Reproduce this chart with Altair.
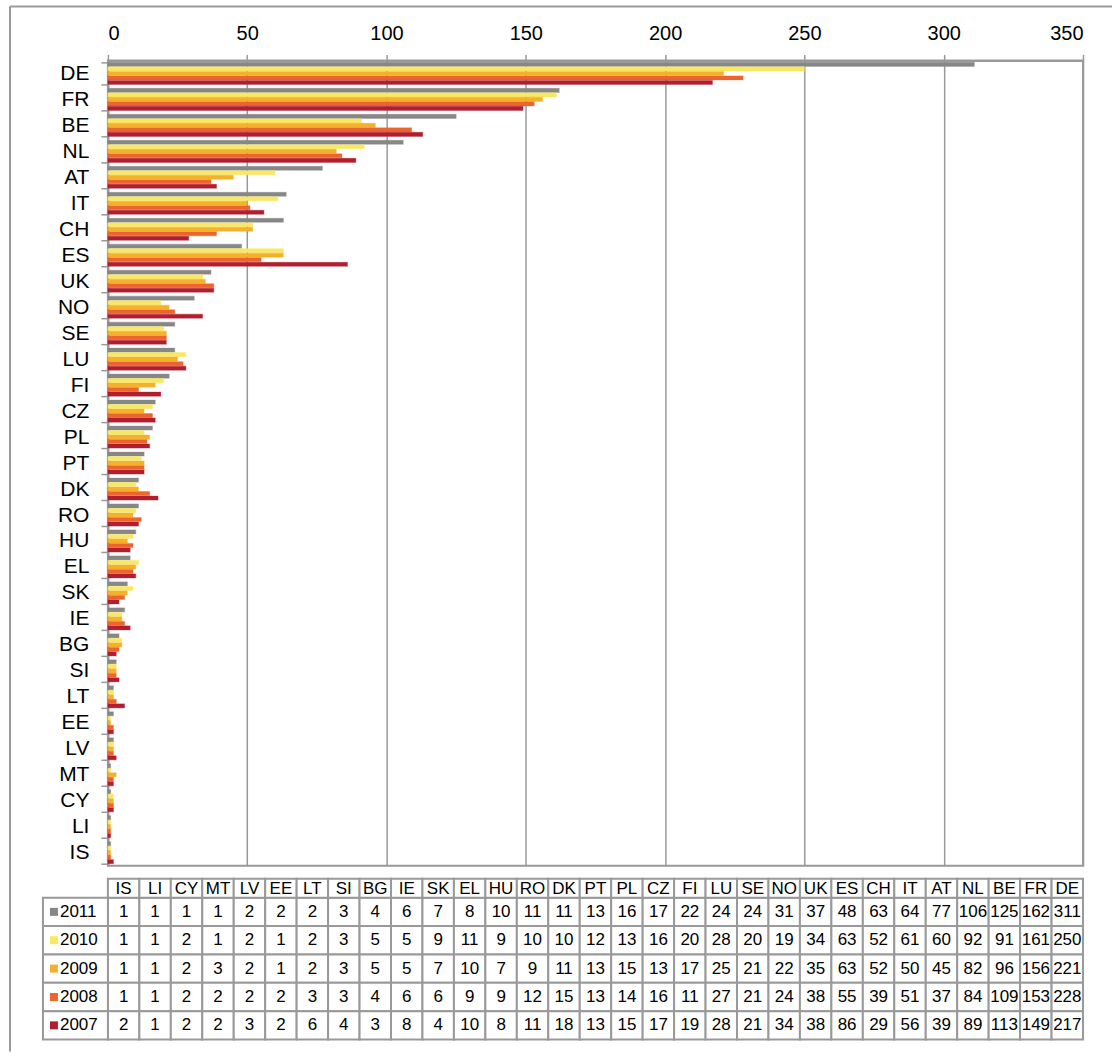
import altair as alt
import pandas as pd

# Countries in table order (smallest to largest); the bar chart lists them in reverse
countries = ["IS", "LI", "CY", "MT", "LV", "EE", "LT", "SI", "BG", "IE", "SK", "EL",
             "HU", "RO", "DK", "PT", "PL", "CZ", "FI", "LU", "SE", "NO", "UK", "ES",
             "CH", "IT", "AT", "NL", "BE", "FR", "DE"]
years = ["2011", "2010", "2009", "2008", "2007"]

v2011 = [1, 1, 1, 1, 2, 2, 2, 3, 4, 6, 7, 8, 10, 11, 11, 13, 16, 17, 22, 24, 24, 31,
         37, 48, 63, 64, 77, 106, 125, 162, 311]
v2010 = [1, 1, 2, 1, 2, 1, 2, 3, 5, 5, 9, 11, 9, 10, 10, 12, 13, 16, 20, 28, 20, 19,
         34, 63, 52, 61, 60, 92, 91, 161, 250]
v2009 = [1, 1, 2, 3, 2, 1, 2, 3, 5, 5, 7, 10, 7, 9, 11, 13, 15, 13, 17, 25, 21, 22,
         35, 63, 52, 50, 45, 82, 96, 156, 221]
v2008 = [1, 1, 2, 2, 2, 2, 3, 3, 4, 6, 6, 9, 9, 12, 15, 13, 14, 16, 11, 27, 21, 24,
         38, 55, 39, 51, 37, 84, 109, 153, 228]
v2007 = [2, 1, 2, 2, 3, 2, 6, 4, 3, 8, 4, 10, 8, 11, 18, 13, 15, 17, 19, 28, 21, 34,
         38, 86, 29, 56, 39, 89, 113, 149, 217]

colors = ["#878787", "#f8e862", "#f4b12e", "#ec652e", "#b11e2e"]

series = dict(zip(years, [v2011, v2010, v2009, v2008, v2007]))
df = pd.DataFrame(
    [{"country": c, "year": y, "value": vals[i]}
     for y, vals in series.items() for i, c in enumerate(countries)]
)
hdr = pd.DataFrame({"country": countries})
rows = pd.DataFrame({"year": years})
dummy = pd.DataFrame({"k": [0]})

FONT = "Liberation Sans"
GRAY = "#999999"
color_scale = alt.Scale(domain=years, range=colors)

# ---- bar chart ----
bars = alt.Chart(df).mark_bar(strokeWidth=1.2, strokeOpacity=0.3).encode(
    x=alt.X("value:Q",
            scale=alt.Scale(domain=[0, 350], nice=False),
            axis=alt.Axis(orient="top", values=list(range(0, 351, 50)), title=None,
                          grid=True, gridColor=GRAY, gridWidth=1.5,
                          domainColor=GRAY, domainWidth=2,
                          tickColor=GRAY, tickWidth=1.5, tickSize=6,
                          labelFont=FONT, labelFontSize=20, labelColor="black",
                          labelPadding=11)),
    y=alt.Y("country:N", sort=countries[::-1],
            scale=alt.Scale(paddingInner=0.15, paddingOuter=0.075),
            axis=alt.Axis(title=None, tickBand="extent",
                          domainColor=GRAY, domainWidth=2,
                          tickColor=GRAY, tickWidth=1.5, tickSize=7,
                          labelFont=FONT, labelFontSize=21, labelColor="black",
                          labelPadding=12)),
    yOffset=alt.YOffset("year:N", sort=years, scale=alt.Scale(paddingInner=0.1)),
    color=alt.Color("year:N", scale=color_scale, legend=None),
    stroke=alt.Stroke("year:N", scale=color_scale, legend=None),
)

frame_left = alt.Chart(dummy).mark_rule(color=GRAY, strokeWidth=2).encode(
    x=alt.value(-98), y=alt.value(-54), y2=alt.value(992))
frame_top = alt.Chart(dummy).mark_rule(color=GRAY, strokeWidth=2).encode(
    x=alt.value(-98), x2=alt.value(1005), y=alt.value(-54))

main = alt.layer(bars, frame_left, frame_top).properties(width=976, height=806)

# ---- data table ----
xcol = alt.X("country:N", sort=countries,
             scale=alt.Scale(paddingInner=0, paddingOuter=0), axis=None)
yrow = alt.Y("year:N", sort=years,
             scale=alt.Scale(paddingInner=0, paddingOuter=0), axis=None)

cells = alt.Chart(df).mark_rect(fill="white", stroke=GRAY, strokeWidth=2).encode(
    x=xcol, y=yrow)
cell_text = alt.Chart(df).mark_text(font=FONT, fontSize=17, color="black").encode(
    x=xcol, y=yrow, text="value:Q")

hdr_cells = alt.Chart(hdr).mark_rect(fill="white", stroke=GRAY, strokeWidth=2).encode(
    x=xcol, y=alt.value(-19), y2=alt.value(0))
hdr_text = alt.Chart(hdr).mark_text(font=FONT, fontSize=17, color="black",
                                    baseline="middle").encode(
    x=xcol, y=alt.value(-9), text="country:N")

row_cells = alt.Chart(rows).mark_rect(fill="white", stroke=GRAY, strokeWidth=2).encode(
    x=alt.value(-65), x2=alt.value(0), y=yrow)
row_keys = alt.Chart(rows).mark_square(size=64, opacity=1).encode(
    x=alt.value(-54), y=yrow,
    color=alt.Color("year:N", scale=color_scale, legend=None))
row_text = alt.Chart(rows).mark_text(font=FONT, fontSize=17, color="black",
                                     align="left").encode(
    x=alt.value(-48), y=yrow, text="year:N")

table = alt.layer(cells, cell_text, hdr_cells, hdr_text, row_cells, row_keys,
                  row_text).properties(
    width=976, height=142,
    view=alt.ViewBackground(stroke="transparent"))

chart = alt.vconcat(main, table, spacing=32, bounds="flush").properties(
    padding={"left": 8, "top": 4, "right": 0, "bottom": 0},
    background="white",
).configure_view(stroke=GRAY, strokeWidth=2)

chart.save("out.html", embed_options={"renderer": "svg", "actions": False})
